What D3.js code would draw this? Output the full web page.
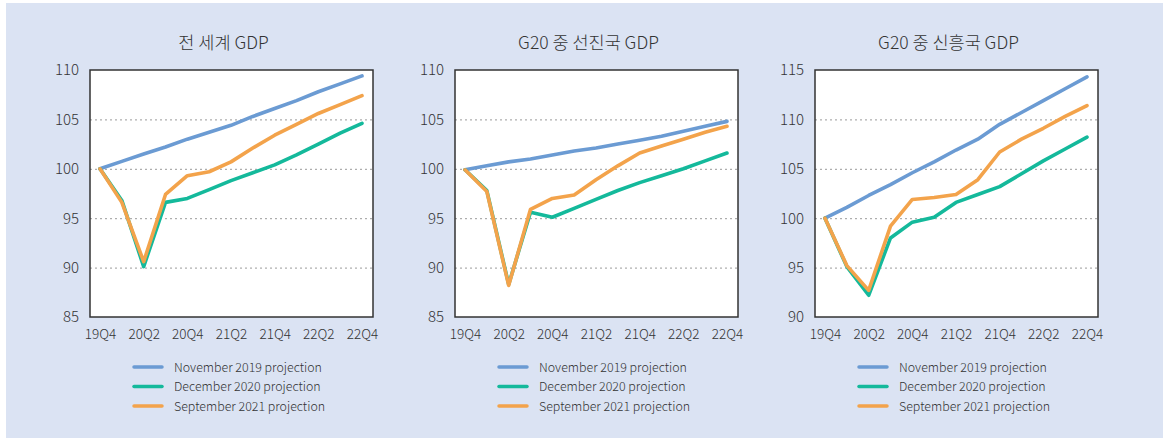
<!DOCTYPE html>
<html>
<head>
<meta charset="utf-8">
<script src="https://cdn.jsdelivr.net/npm/d3@7"></script>
<style>
  body { margin: 0; background: #fff; }
  svg { display: block; font-family: "Noto Sans CJK KR", "Noto Sans", sans-serif; font-weight: 300; }
</style>
</head>
<body>
<svg id="chart"></svg>
<script>
const quarters = ["19Q4","20Q1","20Q2","20Q3","20Q4","21Q1","21Q2","21Q3","21Q4","22Q1","22Q2","22Q3","22Q4"];
const tickQuarters = ["19Q4","20Q2","20Q4","21Q2","21Q4","22Q2","22Q4"];

const titles = ["전 세계 GDP", "G20 중 선진국 GDP", "G20 중 신흥국 GDP"];
const seriesNames = ["November 2019 projection", "December 2020 projection", "September 2021 projection"];
const seriesColors = ["#6b9bd3", "#14b99b", "#f3a34b"];

// 전 세계
const worldNov19 = [100, 100.75, 101.5, 102.2, 103.0, 103.7, 104.4, 105.3, 106.1, 106.9, 107.8, 108.6, 109.4];
const worldDec20 = [100, 96.8, 90.1, 96.6, 97.0, 97.9, 98.8, 99.6, 100.4, 101.4, 102.5, 103.6, 104.6];
const worldSep21 = [100, 96.6, 90.6, 97.4, 99.3, 99.7, 100.7, 102.1, 103.4, 104.5, 105.6, 106.5, 107.4];

// G20 선진국
const advNov19 = [99.9, 100.3, 100.7, 101.0, 101.4, 101.8, 102.1, 102.5, 102.9, 103.3, 103.8, 104.3, 104.8];
const advDec20 = [99.9, 97.8, 88.3, 95.6, 95.1, 96.0, 96.9, 97.8, 98.6, 99.3, 100.0, 100.8, 101.6];
const advSep21 = [99.9, 97.7, 88.2, 95.9, 97.0, 97.35, 98.9, 100.3, 101.6, 102.3, 103.0, 103.7, 104.3];

// G20 신흥국
const emNov19 = [100, 101.1, 102.3, 103.4, 104.6, 105.7, 106.9, 108.0, 109.5, 110.7, 111.9, 113.1, 114.3];
const emDec20 = [100, 95.1, 92.2, 98.0, 99.6, 100.1, 101.6, 102.4, 103.2, 104.5, 105.8, 107.0, 108.2];
const emSep21 = [100, 95.2, 92.7, 99.2, 101.9, 102.1, 102.4, 103.9, 106.7, 108.0, 109.1, 110.3, 111.4];

const yDomains = [[85, 110], [85, 110], [90, 115]];
const panelSeries = [
  [worldNov19, worldDec20, worldSep21],
  [advNov19, advDec20, advSep21],
  [emNov19, emDec20, emSep21]
];

const width = 1167;
const height = 438;
const panelLefts = [90, 455, 815];
const boxW = 283;
const plotTop = 70;
const plotBottom = 317;

const svg = d3.select("#chart")
  .attr("width", width)
  .attr("height", height);

svg.append("rect")
  .attr("x", 6)
  .attr("y", 3)
  .attr("width", 1157)
  .attr("height", 435)
  .attr("fill", "#dbe3f3");

panelLefts.forEach((left, p) => {
  const g = svg.append("g");

  const xScale = d3.scalePoint()
    .domain(quarters)
    .range([left + 10, left + boxW - 11]);

  const yScale = d3.scaleLinear()
    .domain(yDomains[p])
    .range([plotBottom, plotTop]);

  const yTicks = d3.range(yDomains[p][0], yDomains[p][1] + 1, 5);

  // plot area
  g.append("rect")
    .attr("x", left)
    .attr("y", plotTop)
    .attr("width", boxW)
    .attr("height", plotBottom - plotTop)
    .attr("fill", "#fff");

  // grid lines
  const grid = d3.axisLeft(yScale)
    .tickValues(yTicks.slice(1, -1))
    .tickSize(-boxW)
    .tickFormat("");

  g.append("g")
    .attr("transform", `translate(${left}, 0)`)
    .call(grid)
    .call(s => s.select(".domain").remove())
    .selectAll("line")
      .attr("stroke", "#9a9a9a")
      .attr("stroke-width", 1)
      .attr("stroke-dasharray", "2,3");

  // y axis labels
  const yAxis = d3.axisLeft(yScale)
    .tickValues(yTicks)
    .tickSize(0)
    .tickPadding(11);

  g.append("g")
    .attr("transform", `translate(${left}, 0)`)
    .call(yAxis)
    .call(s => s.select(".domain").remove())
    .selectAll("text")
      .attr("font-size", 15)
      .attr("fill", "#333")
      .style("font-family", "'Noto Sans CJK KR', sans-serif")
      .style("font-weight", 300);

  // x axis labels
  const xAxis = d3.axisBottom(xScale)
    .tickValues(tickQuarters)
    .tickSize(0)
    .tickPadding(12);

  g.append("g")
    .attr("transform", `translate(0, ${plotBottom})`)
    .call(xAxis)
    .call(s => s.select(".domain").remove())
    .selectAll("text")
      .attr("font-size", 13.5)
      .attr("fill", "#333")
      .style("font-family", "'Noto Sans CJK KR', sans-serif")
      .style("font-weight", 300);

  // lines
  const line = d3.line()
    .x((d, i) => xScale(quarters[i]))
    .y(d => yScale(d));

  panelSeries[p].forEach((values, s) => {
    g.append("path")
      .datum(values)
      .attr("d", line)
      .attr("fill", "none")
      .attr("stroke", seriesColors[s])
      .attr("stroke-width", 3.6)
      .attr("stroke-linejoin", "round")
      .attr("stroke-linecap", "round");
  });

  // frame
  g.append("rect")
    .attr("x", left)
    .attr("y", plotTop)
    .attr("width", boxW)
    .attr("height", plotBottom - plotTop)
    .attr("fill", "none")
    .attr("stroke", "#333")
    .attr("stroke-width", 1.5);

  // title
  g.append("text")
    .attr("x", left + boxW / 2 - 8)
    .attr("y", 49)
    .style("text-anchor", "middle")
    .attr("font-size", 17.5)
    .attr("fill", "#333")
    .text(titles[p]);

  // legend
  seriesNames.forEach((name, s) => {
    const ly = 367 + s * 19.5;
    g.append("line")
      .attr("x1", left + 44)
      .attr("x2", left + 72)
      .attr("y1", ly)
      .attr("y2", ly)
      .attr("stroke", seriesColors[s])
      .attr("stroke-width", 3.5)
      .attr("stroke-linecap", "round");
    g.append("text")
      .attr("x", left + 84)
      .attr("y", ly + 4.5)
      .attr("font-size", 12.4)
      .attr("fill", "#333")
      .text(name);
  });
});
</script>
</body>
</html>
